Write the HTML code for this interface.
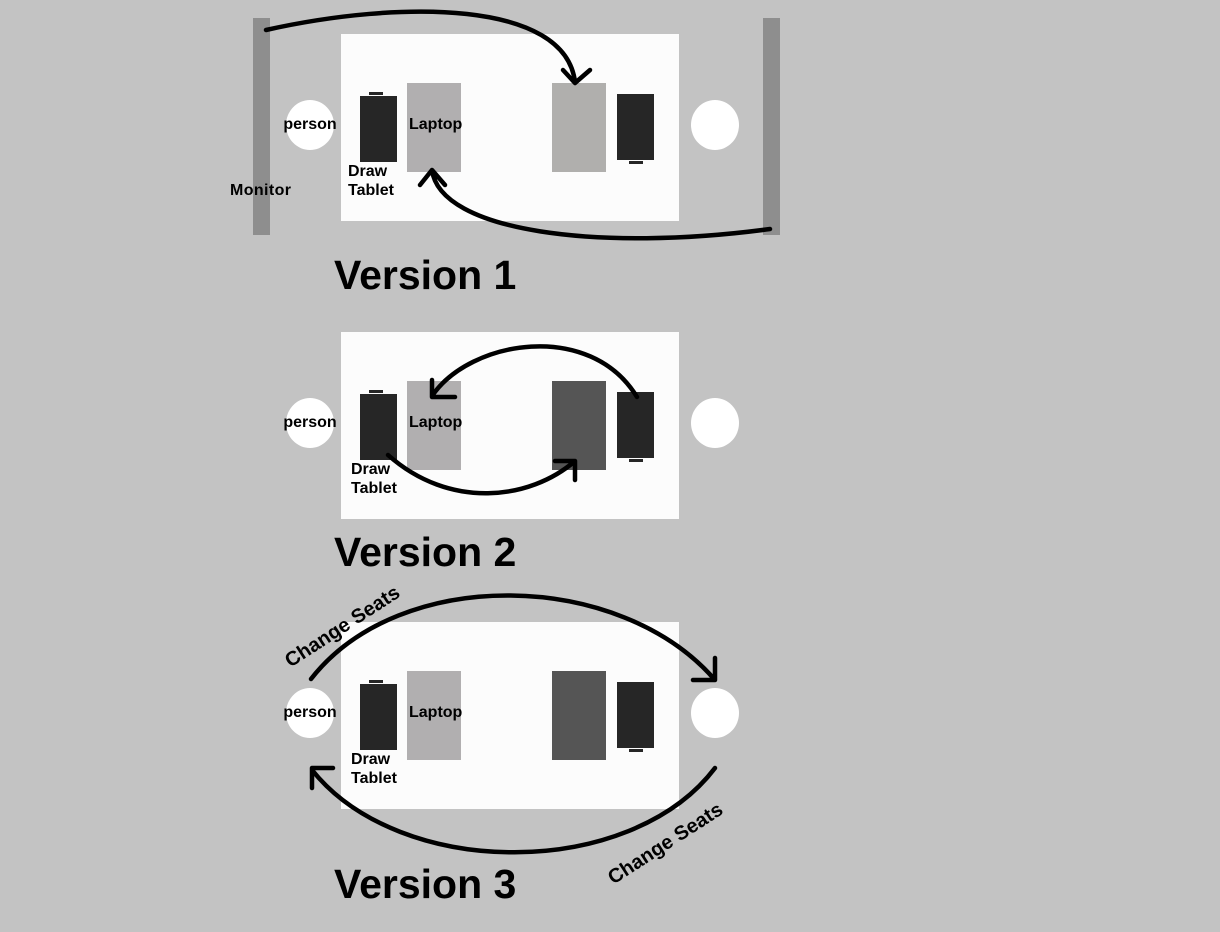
<!DOCTYPE html>
<html><head><meta charset="utf-8"><style>
html,body{margin:0;padding:0;background:#c3c3c3;}
svg{display:block;font-family:"Liberation Sans",sans-serif;font-weight:bold;}
</style></head><body>
<svg width="1220" height="932" viewBox="0 0 1220 932">
<rect width="1220" height="932" fill="#c3c3c3"/>
<g id="layouts"></g>
<rect x="253" y="18" width="17" height="217" fill="#8e8e8e"/>
<rect x="763" y="18" width="17" height="217" fill="#8e8e8e"/>
<text x="230" y="195" font-size="16" textLength="61">Monitor</text>
<g fill="none" stroke="#000" stroke-width="4.5" stroke-linecap="round" stroke-linejoin="round">
<path d="M266,30 C400,0 565,0 575,82 M563,70 L575,83 L590,70"/>
<path d="M770,229 C600,252 440,232 432,170 M420,185 L432,170 L445,185"/>
<path d="M637,397 C590,320 470,340 432,396 M432,380 L432,397 L455,397"/>
<path d="M388,455 C450,510 530,500 575,461 M555,461 L575,461 L575,480"/>
<path d="M311,679 C400,565 620,570 715,680 M715,658 L715,680 L693,680"/>
<path d="M715,768 C630,880 400,880 312,770 M312,788 L312,768 L333,768"/>
</g>
<text x="342" y="633" font-size="20" text-anchor="middle" transform="rotate(-33 342 626)">Change Seats</text>
<text x="665" y="850" font-size="20" text-anchor="middle" transform="rotate(-33 665 843)">Change Seats</text>
<text x="334" y="289" font-size="41">Version 1</text>
<text x="334" y="566" font-size="41">Version 2</text>
<text x="334" y="898" font-size="41">Version 3</text>
</svg>
<script>
const offsets=[0,298,588];
const rightLaptopColors=['#b0afad','#555555','#555555'];
const drawX=[348,351,351];
const g=document.getElementById('layouts');
const NS='http://www.w3.org/2000/svg';
function mk(tag,attrs){const e=document.createElementNS(NS,tag);for(const k in attrs)e.setAttribute(k,attrs[k]);g.appendChild(e);return e;}
offsets.forEach((o,i)=>{
  let e;
  e=mk('rect',{x:341,y:34+o,width:338,height:187,fill:'#fcfcfc'});
  
  
  e=mk('ellipse',{cx:310,cy:125+o,rx:24,ry:25,fill:'#fff'});
  
  
  e=mk('ellipse',{cx:715,cy:125+o,rx:24,ry:25,fill:'#fff'});
  
  
  e=mk('rect',{x:360,y:96+o,width:37,height:66,fill:'#262626'});
  
  
  e=mk('rect',{x:369,y:92+o,width:14,height:3,fill:'#262626'});
  
  
  e=mk('rect',{x:407,y:83+o,width:54,height:89,fill:'#b1afb0'});
  
  
  e=mk('rect',{x:552,y:83+o,width:54,height:89,fill:rightLaptopColors[i]});
  
  
  e=mk('rect',{x:617,y:94+o,width:37,height:66,fill:'#262626'});
  
  
  e=mk('rect',{x:629,y:161+o,width:14,height:3,fill:'#262626'});
  
  
  e=mk('text',{x:310,y:129+o,'font-size':16,'text-anchor':'middle'});e.textContent='person';
  
  
  e=mk('text',{x:409,y:129+o,'font-size':16});e.textContent='Laptop';
  
  
  e=mk('text',{x:drawX[i],y:176+o,'font-size':16});e.textContent='Draw';
  
  
  e=mk('text',{x:drawX[i],y:195+o,'font-size':16});e.textContent='Tablet';
  
  
});
</script>
</body></html>
